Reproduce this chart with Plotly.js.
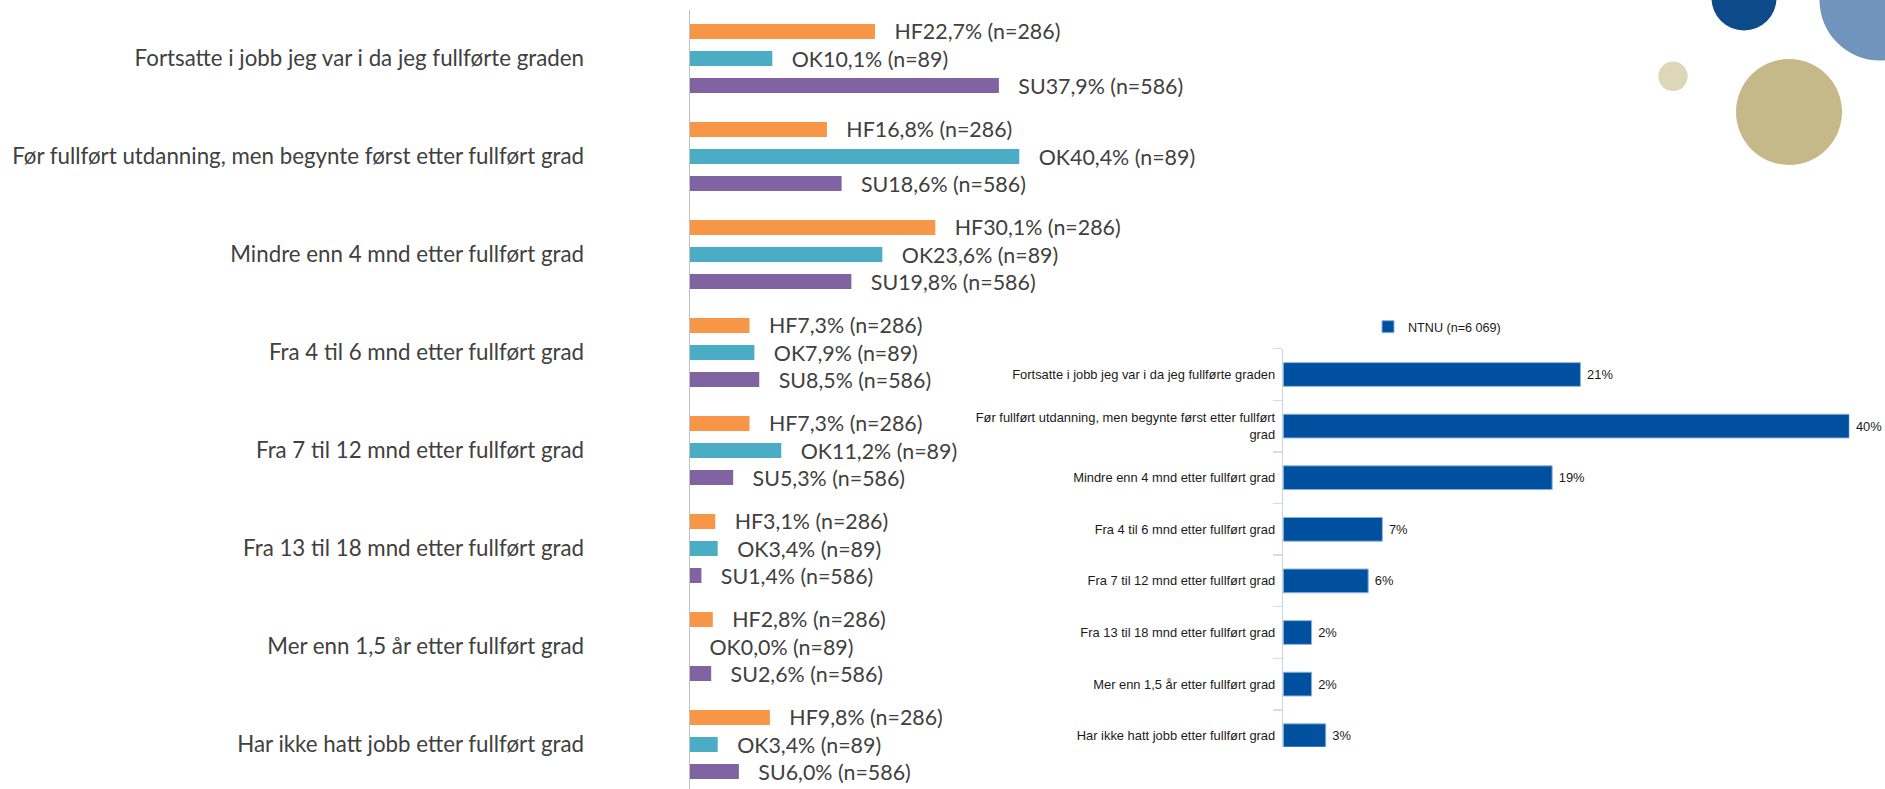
<!DOCTYPE html>
<html>
<head>
<meta charset="utf-8">
<script src="https://cdn.plot.ly/plotly-3.0.1.min.js"></script>
<style>
  html, body { margin: 0; padding: 0; background: #ffffff; }
  #chart { width: 1885px; height: 789px; }
</style>
</head>
<body>
<div id="chart"></div>
<script>
// ---- Data ----
const categories = [
  "Fortsatte i jobb jeg var i da jeg fullførte graden",
  "Før fullført utdanning, men begynte først etter fullført grad",
  "Mindre enn 4 mnd etter fullført grad",
  "Fra 4 til 6 mnd etter fullført grad",
  "Fra 7 til 12 mnd etter fullført grad",
  "Fra 13 til 18 mnd etter fullført grad",
  "Mer enn 1,5 år etter fullført grad",
  "Har ikke hatt jobb etter fullført grad"
];
const hfValues = [22.7, 16.8, 30.1, 7.3, 7.3, 3.1, 2.8, 9.8];
const okValues = [10.1, 40.4, 23.6, 7.9, 11.2, 3.4, 0.0, 3.4];
const suValues = [37.9, 18.6, 19.8, 8.5, 5.3, 1.4, 2.6, 6.0];
const seriesNames = ["HF", "OK", "SU"];
const seriesN = [286, 89, 586];

const ntnuCategories = [
  "Fortsatte i jobb jeg var i da jeg fullførte graden",
  "Før fullført utdanning, men begynte først etter fullført<br>grad",
  "Mindre enn 4 mnd etter fullført grad",
  "Fra 4 til 6 mnd etter fullført grad",
  "Fra 7 til 12 mnd etter fullført grad",
  "Fra 13 til 18 mnd etter fullført grad",
  "Mer enn 1,5 år etter fullført grad",
  "Har ikke hatt jobb etter fullført grad"
];
const ntnuValues = [21, 40, 19, 7, 6, 2, 2, 3];
const ntnuLegend = "NTNU (n=6 069)";

// ---- Helpers ----
const W = 1885, H = 789;
const fx = px => px / W;
const fy = py => 1 - py / H;
const NB = "\u00A0";

function label(name, v, n) {
  return NB + NB + NB + name + v.toFixed(1).replace(".", ",") + "% (n=" + n + ")";
}

const colors = ["#F79646", "#4BACC6", "#8064A2"];
const leftFont = "Lato, 'Open Sans', sans-serif";
const rightFont = "'Liberation Sans', Arial, sans-serif";

const data = [hfValues, okValues, suValues].map((vals, i) => ({
  type: "bar",
  orientation: "h",
  x: vals,
  y: categories,
  xaxis: "x",
  yaxis: "y",
  name: seriesNames[i],
  showlegend: false,
  marker: { color: colors[i] },
  text: vals.map(v => label(seriesNames[i], v, seriesN[i])),
  textposition: "outside",
  constraintext: "none",
  cliponaxis: false,
  textfont: { family: leftFont, size: 21.4, color: "#404040" },
  hoverinfo: "skip"
}));

data.push({
  type: "bar",
  orientation: "h",
  x: ntnuValues,
  y: ntnuCategories,
  xaxis: "x2",
  yaxis: "y2",
  name: ntnuLegend,
  showlegend: true,
  marker: { color: "#0050A0", line: { color: "#8DB0DA", width: 1 } },
  text: ntnuValues.map(v => NB + v + "%"),
  textposition: "outside",
  constraintext: "none",
  cliponaxis: false,
  textfont: { family: rightFont, size: 12.9, color: "#1a1a1a" },
  hoverinfo: "skip"
});

// left chart geometry: zero at x=690, 8.15 px per %
const leftX0 = 690, leftPxPer = 8.15, leftMax = 60;
// category pitch 98 px, first centre at 58.5
const leftTop = 9.5, leftPitch = 98;
const leftBottomVal = -0.5 + (H - leftTop) / leftPitch;

// right chart: zero at x=1283.3, 14.15 px per %
const rightX0 = 1283.3, rightPxPer = 14.15, rightMax = 40;
const rightTop = 348.7, rightBottom = 746.7, rightPitch = 51.6;
const rightBottomVal = -0.5 + (rightBottom - rightTop) / rightPitch;

function circle(cx, cy, r, color) {
  return {
    type: "circle", xref: "paper", yref: "paper", layer: "below",
    x0: fx(cx - r), x1: fx(cx + r), y0: fy(cy + r), y1: fy(cy - r),
    fillcolor: color, line: { width: 0 }
  };
}

const layout = {
  width: W, height: H,
  margin: { l: 0, r: 0, t: 0, b: 0, pad: 0 },
  paper_bgcolor: "#ffffff",
  plot_bgcolor: "rgba(0,0,0,0)",
  barmode: "group",
  bargap: 0.173,
  bargroupgap: 0.444,
  showlegend: true,
  legend: {
    x: fx(1368), y: fy(312), xanchor: "left", yanchor: "top",
    font: { family: rightFont, size: 12.6, color: "#1a1a1a" },
    bgcolor: "rgba(0,0,0,0)"
  },
  xaxis: {
    domain: [fx(leftX0), fx(leftX0 + leftPxPer * leftMax)],
    range: [0, leftMax], anchor: "y",
    showline: false, showgrid: false, zeroline: false, showticklabels: false, ticks: ""
  },
  yaxis: {
    domain: [0, fy(leftTop)],
    type: "category",
    range: [leftBottomVal, -0.5], anchor: "x",
    showline: true, linecolor: "#BFBFBF", linewidth: 1.5,
    showgrid: false, zeroline: false, ticks: "",
    ticklabelstandoff: 100,
    tickfont: { family: leftFont, size: 22.3, color: "#404040" }
  },
  xaxis2: {
    domain: [fx(rightX0), fx(rightX0 + rightPxPer * rightMax)],
    range: [0, rightMax], anchor: "y2",
    showline: false, showgrid: false, zeroline: false, showticklabels: false, ticks: ""
  },
  yaxis2: {
    domain: [fy(rightBottom), fy(rightTop)],
    type: "category",
    range: [rightBottomVal, -0.5], anchor: "x2",
    showline: true, linecolor: "#C5D3E6", linewidth: 1.5,
    showgrid: false, zeroline: false,
    ticks: "outside", tickson: "boundaries", ticklen: 9, tickwidth: 1.5, tickcolor: "#D3DCE8",
    ticklabelstandoff: 4,
    tickfont: { family: rightFont, size: 12.9, color: "#1a1a1a" }
  },
  shapes: [
    circle(1880, 0, 60.5, "#7094BC"),
    circle(1744, -2, 32.5, "#0C4A8A"),
    circle(1673, 76.3, 14.7, "#DDD6B8"),
    circle(1789, 112, 53, "#C5B889")
  ]
};

Plotly.newPlot("chart", data, layout, { displayModeBar: false, staticPlot: true });
</script>
</body>
</html>
